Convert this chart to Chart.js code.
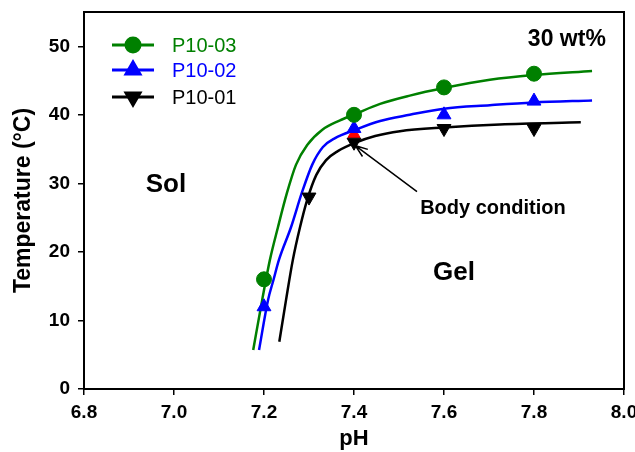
<!DOCTYPE html>
<html>
<head>
<meta charset="utf-8">
<script src="https://cdn.jsdelivr.net/npm/chart.js@4.4.1/dist/chart.umd.min.js"></script>
<style>
  html, body { margin:0; padding:0; background:#fff; }
  #wrap { width:635px; height:452px; }
</style>
</head>
<body>
<div id="wrap"><canvas id="c" width="635" height="452"></canvas></div>
<script>
// ---- measured points ----
const PH_03   = [7.2, 7.4, 7.6, 7.8];
const T_03    = [16, 40, 44, 46];
const PH_02   = [7.2, 7.4, 7.6, 7.8];
const T_02    = [12, 38, 40, 42];
const PH_01   = [7.3, 7.4, 7.6, 7.8];
const T_01    = [28, 36, 38, 38];
const PH_BODY = [7.4];
const T_BODY  = [37.2];

// ---- fitted curves ----
const FIT03_PH = [7.176, 7.196, 7.213, 7.231, 7.251, 7.271, 7.296, 7.329, 7.369, 7.402, 7.458, 7.524, 7.60, 7.702, 7.798, 7.929];
const FIT03_T  = [5.7, 13.0, 18.8, 23.6, 28.6, 32.7, 35.6, 37.8, 39.2, 40.1, 41.6, 42.8, 43.9, 45.1, 45.8, 46.4];
const FIT02_PH = [7.189, 7.209, 7.221, 7.233, 7.260, 7.284, 7.307, 7.331, 7.358, 7.402, 7.458, 7.524, 7.60, 7.702, 7.798, 7.929];
const FIT02_T  = [5.7, 13.0, 15.9, 18.8, 23.6, 28.6, 32.7, 35.3, 36.6, 37.8, 39.1, 40.0, 40.9, 41.4, 41.8, 42.1];
const FIT01_PH = [7.234, 7.249, 7.264, 7.280, 7.296, 7.316, 7.338, 7.364, 7.402, 7.447, 7.502, 7.60, 7.724, 7.904];
const FIT01_T  = [6.9, 13.0, 18.8, 23.6, 27.6, 31.2, 33.4, 34.7, 35.9, 36.9, 37.6, 38.15, 38.6, 38.9];

const X_TICKS = [6.8, 7.0, 7.2, 7.4, 7.6, 7.8, 8.0];
const Y_TICKS = [0, 10, 20, 30, 40, 50];

const SERIES = ['P10-03', 'P10-02', 'P10-01'];
const COLORS = ['#008000', '#0000ff', '#000000'];
const STYLES = ['circle', 'triangle', 'triangle'];
const ROTS   = [0, 0, 180];

const FONT = '"Liberation Sans", Arial, sans-serif';

const pts = (xs, ys) => xs.map((x, i) => ({ x, y: ys[i] }));

function fitSet(xs, ys, color, order) {
  return { data: pts(xs, ys), borderColor: color, borderWidth: 2.5, pointRadius: 0,
           fill: false, cubicInterpolationMode: 'monotone', showLine: true, order };
}
function markSet(xs, ys, color, style, rot, r, order) {
  return { data: pts(xs, ys), showLine: false, pointStyle: style, rotation: rot,
           pointRadius: r, backgroundColor: color, borderColor: color, borderWidth: 1, order };
}

// frame, notes, arrow, legend
const decor = {
  id: 'decor',
  beforeDatasetsDraw(chart) {
    const { ctx, chartArea: a } = chart;
    ctx.save();
    ctx.strokeStyle = '#000';
    ctx.lineWidth = 2;
    ctx.strokeRect(a.left, a.top, a.right - a.left, a.bottom - a.top);
    ctx.restore();
  },
  afterDraw(chart) {
    const { ctx } = chart;
    const xs = chart.scales.x, ys = chart.scales.y;
    const px = v => xs.getPixelForValue(v), py = v => ys.getPixelForValue(v);
    ctx.save();
    ctx.fillStyle = '#000';
    ctx.textBaseline = 'middle';

    ctx.font = 'bold 26px ' + FONT;
    ctx.textAlign = 'center';
    ctx.fillText('Sol', px(6.982), py(29.8));
    ctx.fillText('Gel', px(7.622), py(17.0));

    ctx.font = 'bold 23px ' + FONT;
    ctx.fillText('30 wt%', px(7.873), py(51.0));

    ctx.font = 'bold 20px ' + FONT;
    ctx.textAlign = 'left';
    ctx.fillText('Body condition', px(7.547), py(26.4));

    // arrow
    const x1 = px(7.54), y1 = py(28.8), x2 = px(7.403), y2 = py(35.5);
    const ang = Math.atan2(y2 - y1, x2 - x1);
    ctx.strokeStyle = '#000';
    ctx.lineWidth = 1.5;
    ctx.beginPath();
    ctx.moveTo(x1, y1); ctx.lineTo(x2, y2);
    ctx.moveTo(x2 - 13 * Math.cos(ang - 0.35), y2 - 13 * Math.sin(ang - 0.35));
    ctx.lineTo(x2, y2);
    ctx.lineTo(x2 - 13 * Math.cos(ang + 0.35), y2 - 13 * Math.sin(ang + 0.35));
    ctx.stroke();

    // legend
    const rows = [45, 70, 97];
    ctx.font = '20px ' + FONT;
    SERIES.forEach((name, i) => {
      const y = rows[i];
      ctx.strokeStyle = COLORS[i];
      ctx.lineWidth = 3;
      ctx.beginPath(); ctx.moveTo(112, y); ctx.lineTo(154, y); ctx.stroke();
      ctx.fillStyle = COLORS[i];
      Chart.helpers.drawPoint(ctx, { pointStyle: STYLES[i], rotation: ROTS[i], radius: i ? 8 : 7, borderWidth: 1 }, 133, y);
      ctx.fill();
      ctx.fillText(name, 172, y + 1);
    });
    ctx.restore();
  }
};

new Chart(document.getElementById('c'), {
  type: 'scatter',
  data: {
    datasets: [
      markSet(PH_03, T_03, COLORS[0], 'circle', 0, 7.5, 1),
      markSet(PH_02, T_02, COLORS[1], 'triangle', 0, 8, 2),
      markSet(PH_01, T_01, COLORS[2], 'triangle', 180, 8, 3),
      markSet(PH_BODY, T_BODY, '#ff0000', 'triangle', 0, 7, 4),
      fitSet(FIT03_PH, FIT03_T, COLORS[0], 5),
      fitSet(FIT02_PH, FIT02_T, COLORS[1], 6),
      fitSet(FIT01_PH, FIT01_T, COLORS[2], 7),
    ],
  },
  options: {
    responsive: false,
    animation: false,
    layout: { padding: { left: 0, right: 11, top: 12, bottom: 0 } },
    plugins: { legend: { display: false }, tooltip: { enabled: false } },
    scales: {
      x: {
        type: 'linear', min: 6.8, max: 8.0,
        afterBuildTicks: s => { s.ticks = X_TICKS.map(v => ({ value: v })); },
        afterFit: s => { s.height = 63; s.paddingLeft = 0; s.paddingRight = 0; },
        ticks: { color: '#000', font: { family: FONT, size: 19, weight: 'bold' }, padding: 6,
                 maxRotation: 0, autoSkip: false, callback: v => v.toFixed(1) },
        grid: { drawOnChartArea: false, drawTicks: true, tickLength: 6, color: '#000', lineWidth: 1.5 },
        border: { color: '#000', width: 2 },
        title: { display: true, text: 'pH', color: '#000', font: { family: FONT, size: 22, weight: 'bold' },
                 padding: { top: 4, bottom: 0 } },
      },
      y: {
        min: 0, max: 55,
        afterBuildTicks: s => { s.ticks = Y_TICKS.map(v => ({ value: v })); },
        afterFit: s => { s.width = 84; s.paddingTop = 0; s.paddingBottom = 0; },
        ticks: { color: '#000', font: { family: FONT, size: 19, weight: 'bold' }, padding: 8 },
        grid: { drawOnChartArea: false, drawTicks: true, tickLength: 6, color: '#000', lineWidth: 1.5 },
        border: { color: '#000', width: 2 },
        title: { display: true, text: 'Temperature (°C)', color: '#000',
                 font: { family: FONT, size: 23, weight: 'bold' }, padding: { top: 10, bottom: 0 } },
      },
    },
  },
  plugins: [decor],
});
</script>
</body>
</html>
